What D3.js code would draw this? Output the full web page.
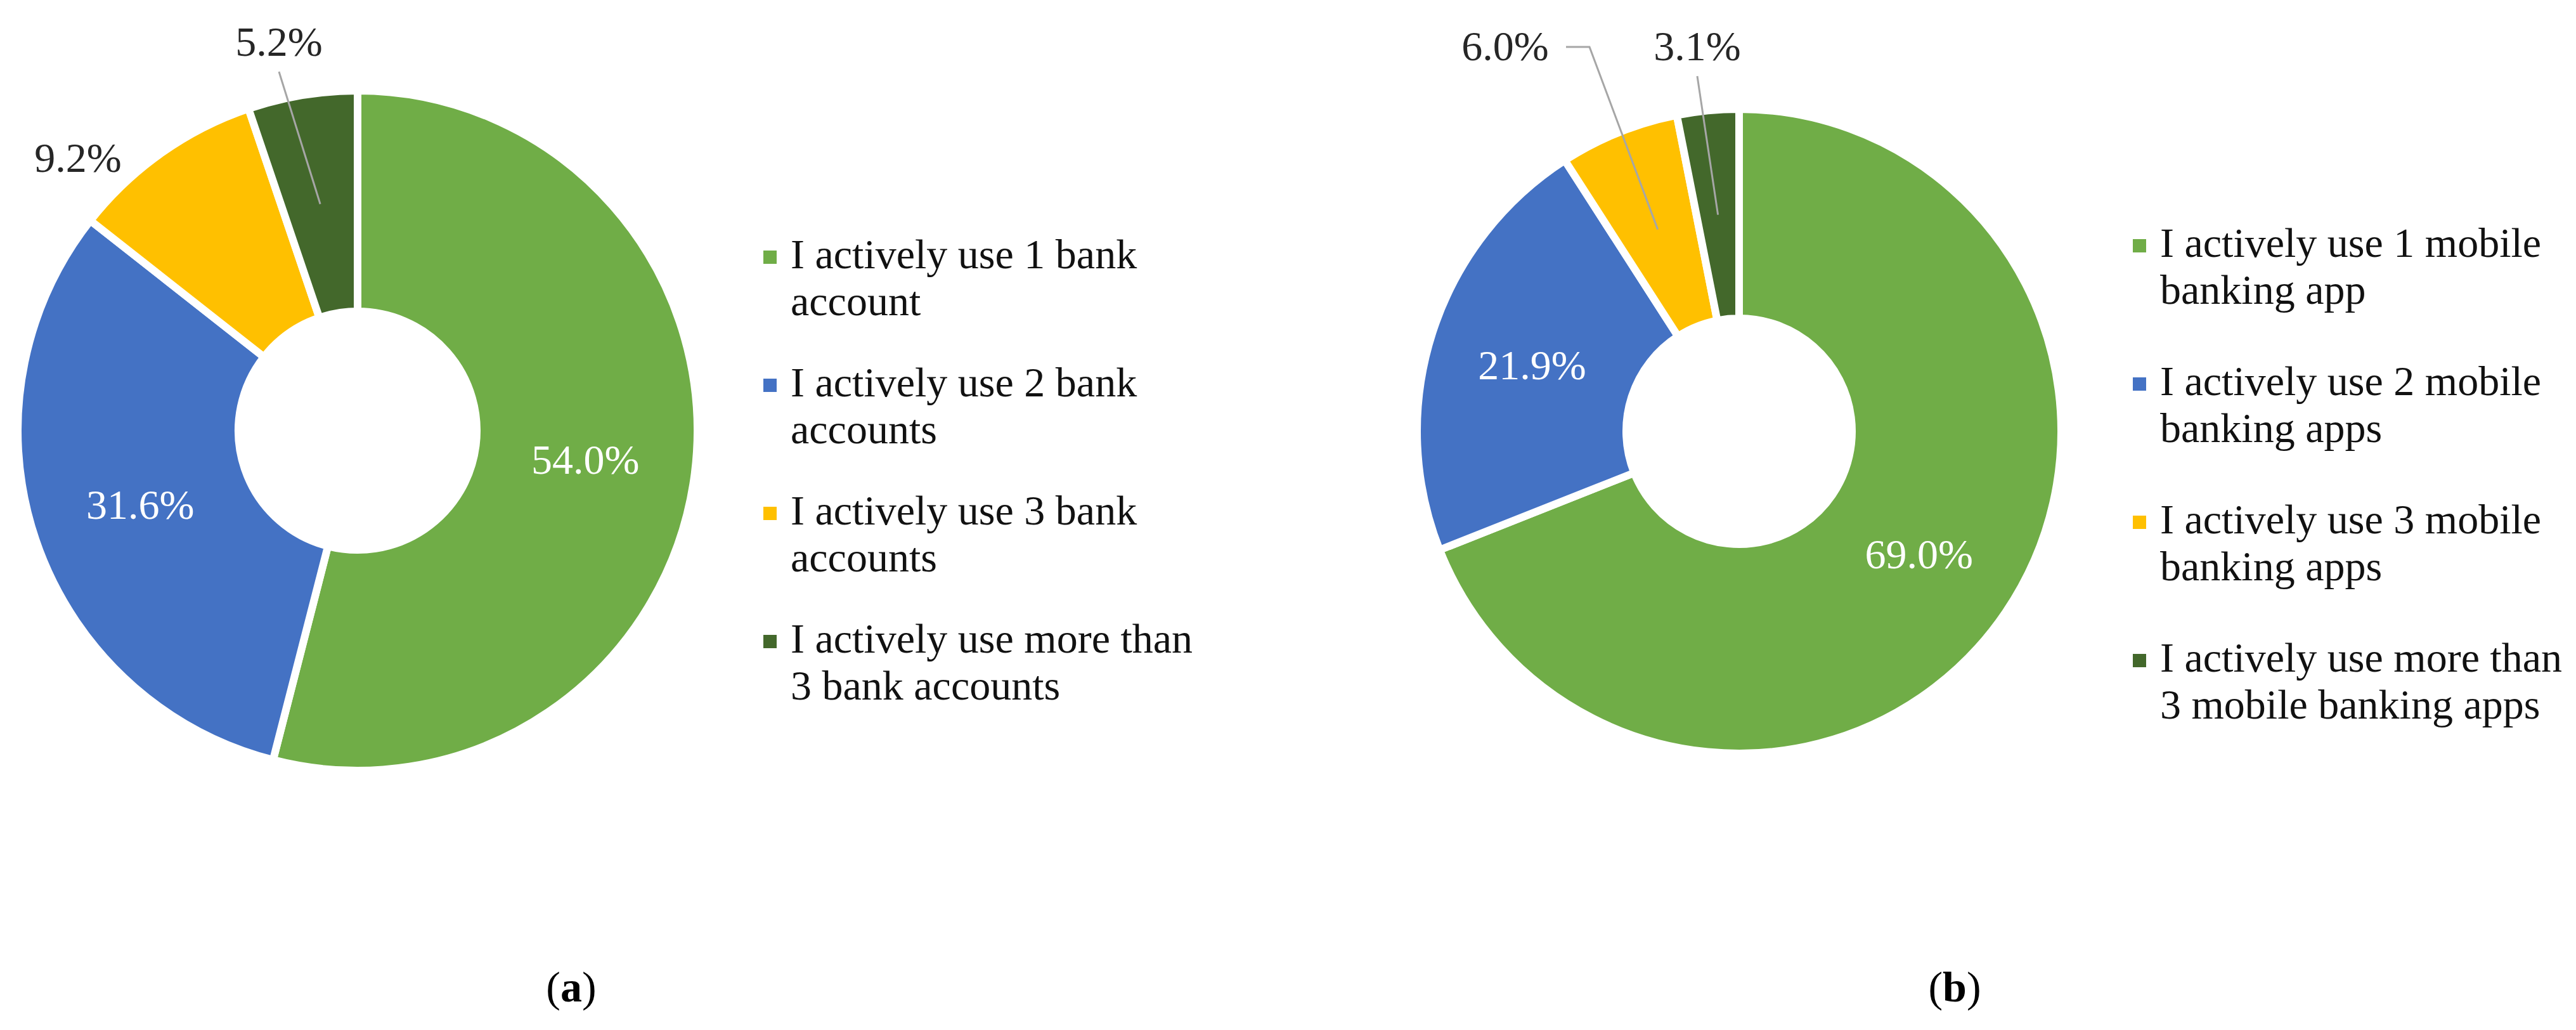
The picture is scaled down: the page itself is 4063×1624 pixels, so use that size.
<html>
<head>
<script src="https://d3js.org/d3.v7.min.js"></script>
<style>
  body { margin: 0; background: #fff; }
  svg text { font-family: "Liberation Serif", "Times New Roman", serif; }
  .slice { stroke: #fff; stroke-width: 12px; }
  .leader { fill: none; stroke: #a6a6a6; stroke-width: 3px; }
  .in-label { fill: #fff; font-size: 66px; }
  .out-label { fill: #262626; font-size: 66px; }
  .legend-text { fill: #111; font-size: 66px; }
  .caption { fill: #000; font-size: 68px; }
</style>
</head>
<body>
<script>
// chart (a): bank accounts
var bankLabels = [
  ["I actively use 1 bank", "account"],
  ["I actively use 2 bank", "accounts"],
  ["I actively use 3 bank", "accounts"],
  ["I actively use more than", "3 bank accounts"]
];
var bankValues = [54.0, 31.6, 9.2, 5.2];

// chart (b): mobile banking apps
var appLabels = [
  ["I actively use 1 mobile", "banking app"],
  ["I actively use 2 mobile", "banking apps"],
  ["I actively use 3 mobile", "banking apps"],
  ["I actively use more than", "3 mobile banking apps"]
];
var appValues = [69.0, 21.9, 6.0, 3.1];

var sliceColors = ["#70AD47", "#4472C4", "#FFC000", "#43682B"];

var width = 4063, height = 1624;

var svg = d3.select("body").append("svg")
    .attr("width", width)
    .attr("height", height);

var color = d3.scaleOrdinal().domain([0, 1, 2, 3]).range(sliceColors);

function drawDonut(opt) {
    var g = svg.append("g")
        .attr("transform", "translate(" + opt.cx + "," + opt.cy + ")");

    var pie = d3.pie().sort(null).value(function (d) { return d; });
    var arcs = pie(opt.values);

    // white border is centred on the edge, so grow the path by half of it
    var arc = d3.arc().innerRadius(opt.r - 6).outerRadius(opt.R + 6);
    var mid = d3.arc().innerRadius(opt.r).outerRadius(opt.R);

    g.selectAll(".slice")
        .data(arcs)
        .enter().append("path")
        .attr("class", "slice")
        .attr("fill", function (d, i) { return color(i); })
        .attr("d", arc);

    arcs.forEach(function (d, i) {
        var txt = d3.format(".1f")(d.data) + "%";
        var c = mid.centroid(d);
        var out = opt.outside[i];
        if (!out) {
            g.append("text")
                .attr("class", "in-label")
                .attr("x", c[0])
                .attr("y", c[1])
                .attr("dy", "0.35em")
                .attr("text-anchor", "middle")
                .text(txt);
            return;
        }
        g.append("text")
            .attr("class", "out-label")
            .attr("x", out.x)
            .attr("y", out.y)
            .attr("dy", "0.35em")
            .attr("text-anchor", "middle")
            .text(txt);
        if (out.leader === "below") {
            g.append("path")
                .attr("class", "leader")
                .attr("d", d3.line()([[out.x, out.y + 48], c]));
        } else if (out.leader === "side") {
            var sx = out.x + 96;
            g.append("path")
                .attr("class", "leader")
                .attr("d", d3.line()([[sx, out.y + 2], [sx + 37, out.y + 2], c]));
        }
    });

    // legend
    var rowY = d3.scaleLinear().domain([0, 1]).range([opt.legendY, opt.legendY + opt.legendStep]);
    var leg = svg.append("g");
    opt.labels.forEach(function (lines, i) {
        var y = rowY(i);
        leg.append("rect")
            .attr("x", opt.legendX)
            .attr("y", y - 28)
            .attr("width", 21)
            .attr("height", 21)
            .attr("fill", color(i));
        var t = leg.append("text")
            .attr("class", "legend-text")
            .attr("x", opt.legendX + 43)
            .attr("y", y);
        lines.forEach(function (line, j) {
            t.append("tspan")
                .attr("x", opt.legendX + 43)
                .attr("dy", j === 0 ? 0 : 74)
                .text(line);
        });
    });

    // caption
    var cap = svg.append("text")
        .attr("class", "caption")
        .attr("x", opt.captionX)
        .attr("y", 1579)
        .attr("text-anchor", "middle");
    cap.append("tspan").text("(");
    cap.append("tspan").attr("font-weight", "bold").text(opt.caption);
    cap.append("tspan").text(")");
}

drawDonut({
    cx: 564, cy: 679, R: 530, r: 194,
    values: bankValues, labels: bankLabels,
    outside: {2: {x: -441, y: -431}, 3: {x: -124, y: -614, leader: "below"}},
    legendX: 1204, legendY: 423, legendStep: 202,
    caption: "a", captionX: 901
});

drawDonut({
    cx: 2743, cy: 680, R: 502, r: 184,
    values: appValues, labels: appLabels,
    outside: {2: {x: -369, y: -608, leader: "side"}, 3: {x: -66, y: -608, leader: "below"}},
    legendX: 3364, legendY: 405, legendStep: 218,
    caption: "b", captionX: 3083
});
</script>
</body>
</html>
